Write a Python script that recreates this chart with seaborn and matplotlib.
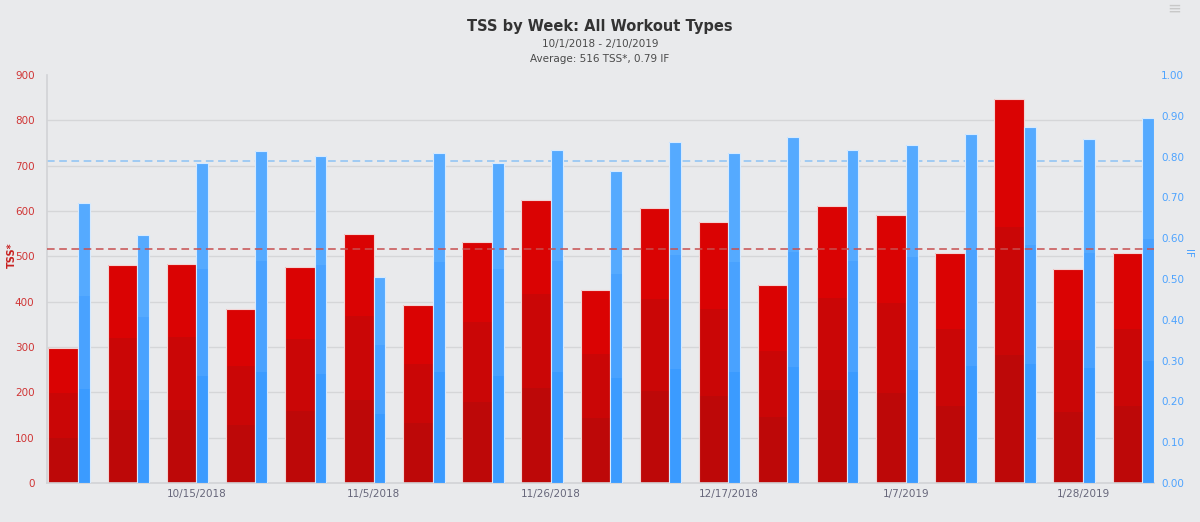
#%%
# =====================================================
# TSS BY WEEK: ALL WORKOUT TYPES
# =====================================================

import numpy as np
import pandas as pd
import matplotlib.pyplot as plt
import matplotlib.transforms as mtransforms
from matplotlib.colors import to_rgb
import seaborn as sns

sns.set_theme(style='ticks')
plt.rcParams['font.family'] = ['DejaVu Sans']

# =====================================================
# DATA
# =====================================================
weeks = [
    '10/1/2018', '10/8/2018', '10/15/2018', '10/22/2018', '10/29/2018',
    '11/5/2018', '11/12/2018', '11/19/2018', '11/26/2018', '12/3/2018',
    '12/10/2018', '12/17/2018', '12/24/2018', '12/31/2018', '1/7/2019',
    '1/14/2019', '1/21/2019', '1/28/2019', '2/4/2019'
]
tss = [297, 480, 482, 384, 476, 550, 393, 532, 624, 426,
       606, 575, 436, 610, 592, 508, 846, 471, 508]
if_vals = [0.686, 0.608, 0.784, 0.814, 0.801, 0.505, 0.809, 0.784, 0.816, 0.765,
           0.836, 0.809, 0.848, 0.816, 0.828, 0.855, 0.873, 0.843, 0.895]
tss_avg = 516
if_avg = 0.79

df = pd.DataFrame({'week': weeks, 'tss': tss, 'if_': if_vals})

# =====================================================
# COLOURS
# =====================================================
bg = '#e9eaec'
red_bands = ['#da0303', '#ca0606', '#bd0808']
blue_bands = ['#55aaff', '#49a2ff', '#3b9bff']
red_txt = '#d03535'
blue_txt = '#4da3ff'
grid_col = '#d5d6d8'

# =====================================================
# FIGURE
# =====================================================
fig = plt.figure(figsize=(12, 5.22), dpi=100, facecolor=bg)
ax1 = fig.add_axes([47 / 1200, 1 - 483 / 522, 1107 / 1200, 408 / 522])
ax1.set_facecolor(bg)
ax2 = ax1.twinx()


def band_fill(ax, patches, bands):
    # three equal colour bands per bar, clipped to the bar
    img = np.array([to_rgb(c) for c in bands]).reshape(3, 1, 3)
    for p in patches:
        x0, w, h = p.get_x(), p.get_width(), p.get_height()
        im = ax.imshow(img, extent=[x0, x0 + w, 0, h], aspect='auto',
                       interpolation='nearest', origin='upper', zorder=0.9)
        im.set_clip_path(p)
        p.set_facecolor('none')


# red bars (TSS) sit left of the week centre
sns.barplot(data=df, x='week', y='tss', ax=ax1, color=red_bands[0], width=0.5,
            saturation=1, edgecolor='#f2d4d4', linewidth=0.8)
for p in ax1.patches:
    p.set_x(p.get_x() - 0.25)
band_fill(ax1, list(ax1.patches), red_bands)

# blue bars (IF) sit right of the week centre
sns.barplot(data=df, x='week', y='if_', ax=ax2, color=blue_bands[0], width=0.2,
            saturation=1, edgecolor='#d6eaff', linewidth=0.8)
for p in ax2.patches:
    p.set_x(p.get_x() + 0.1)
band_fill(ax2, list(ax2.patches), blue_bands)

# =====================================================
# AXES
# =====================================================
ax1.set_ylim(0, 900)
ax2.set_ylim(0, 1.0)
ax1.set_xlim(-0.525, 18.2)

ax1.set_yticks(range(0, 901, 100))
ax2.set_yticks(np.arange(0, 1.001, 0.1))
ax2.set_yticklabels([f'{v:.2f}' for v in np.arange(0, 1.001, 0.1)])

tick_pos = list(range(len(weeks)))[2::3]
ax1.set_xticks(tick_pos)
ax1.set_xticklabels(weeks[2::3])

ax1.set(xlabel='', ylabel='')
ax2.set(xlabel='', ylabel='')

ax1.set_axisbelow(True)
ax1.yaxis.grid(True, color=grid_col, lw=1)
ax1.xaxis.grid(False)
ax2.grid(False)
# no gridline on the top edge
ax1.yaxis.get_gridlines()[-1].set_visible(False)

ax1.tick_params(axis='y', length=0, pad=9, labelsize=7.5, labelcolor=red_txt)
ax1.tick_params(axis='x', length=0, pad=4, labelsize=7.5, labelcolor='#66667a')
ax2.tick_params(axis='y', length=0, pad=5, labelsize=7.5, labelcolor=blue_txt)

for s in ['top', 'right']:
    ax1.spines[s].set_visible(False)
for s in ['left', 'bottom']:
    ax1.spines[s].set_color('#d2d3d6')
    ax1.spines[s].set_linewidth(1.2)
for s in ax2.spines.values():
    s.set_visible(False)

# average lines
ax1.plot([0, 1], [if_avg, if_avg], ls=(0, (5, 3)), lw=1.1, color='#8cc2f5', zorder=0.85,
         transform=mtransforms.blended_transform_factory(ax1.transAxes, ax2.transData))
ax2.plot([0, 1], [tss_avg, tss_avg], ls=(0, (5, 3)), lw=1.1, color='#c85050', zorder=5,
         transform=mtransforms.blended_transform_factory(ax2.transAxes, ax1.transData))

# =====================================================
# TEXT
# =====================================================
fig.text(0.5, 1 - 26 / 522, 'TSS by Week: All Workout Types', ha='center', va='center',
         fontsize=10.5, weight='bold', color='#333333')
fig.text(0.5, 1 - 44 / 522, '10/1/2018 - 2/10/2019', ha='center', va='center',
         fontsize=7.5, color='#4a4a4a')
fig.text(0.5, 1 - 59 / 522, f'Average: {tss_avg} TSS*, {if_avg} IF', ha='center', va='center',
         fontsize=7.5, color='#4a4a4a')

fig.text(12 / 1200, 1 - 255 / 522, 'TSS*', rotation=90, ha='center', va='center',
         fontsize=7, weight='bold', color='#c82020')
fig.text(1188 / 1200, 1 - 253 / 522, 'IF', rotation=270, ha='center', va='center',
         fontsize=7.5, color=blue_txt)

fig.text(1174 / 1200, 1 - 9 / 522, '≡', ha='center', va='center', fontsize=12, color='#c8c8c8')

fig.savefig('out.png', dpi=100, facecolor=bg)
plt.close()
#%%
